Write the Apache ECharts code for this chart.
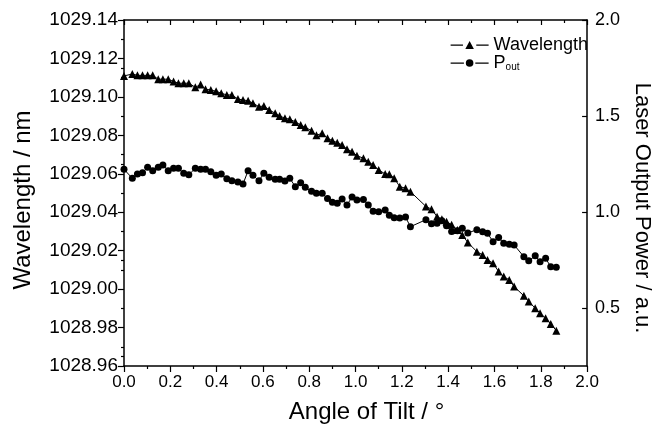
<!DOCTYPE html>
<html><head><meta charset="utf-8">
<script src="https://cdn.jsdelivr.net/npm/echarts@6/dist/echarts.min.js"></script>
<style>html,body{margin:0;padding:0;background:#fff}#c{width:661px;height:435px}</style>
</head><body><div id="c"></div>
<script>
// Angle of tilt (degrees)
const angles = [0.000,0.036,0.058,0.080,0.102,0.124,0.148,0.168,0.191,0.214,0.235,0.258,0.280,0.308,0.331,0.352,0.375,0.398,0.420,0.444,0.466,0.492,0.514,0.536,0.557,0.583,0.604,0.627,0.653,0.672,0.695,0.716,0.740,0.763,0.783,0.810,0.831,0.856,0.879,0.900,0.921,0.942,0.963,0.985,1.006,1.034,1.055,1.076,1.100,1.128,1.146,1.167,1.191,1.216,1.237,1.258,1.279,1.304,1.328,1.352,1.373,1.393,1.415,1.440,1.461,1.485,1.505,1.524,1.549,1.570,1.594,1.618,1.640,1.664,1.685,1.706,1.727,1.748,1.776,1.797,1.821,1.843,1.867];
// Wavelength (nm), null = no measurement
const wavelength = [1029.1109,1029.1119,1029.1112,1029.1112,1029.1112,1029.1112,1029.1092,1029.1092,1029.1092,1029.1080,1029.1071,1029.1071,1029.1071,1029.1050,1029.1064,1029.1040,1029.1036,1029.1029,1029.1019,1029.1010,1029.1010,1029.0989,1029.0984,1029.0980,1029.0967,1029.0949,1029.0953,1029.0932,1029.0915,1029.0901,1029.0889,1029.0884,1029.0870,1029.0854,1029.0842,1029.0824,1029.0800,1029.0811,1029.0785,1029.0772,1029.0762,1029.0750,1029.0728,1029.0715,1029.0694,1029.0681,1029.0663,1029.0646,1029.0620,1029.0599,1029.0598,1029.0577,1029.0533,1029.0525,1029.0507,null,null,1029.0430,1029.0416,1029.0377,1029.0364,1029.0351,1029.0335,1029.0308,1029.0282,1029.0242,null,1029.0195,1029.0178,1029.0152,1029.0135,1029.0091,1029.0065,1029.0048,1029.0013,null,1028.9965,1028.9935,1028.9901,1028.9875,1028.9849,1028.9819,1028.9784];
// Laser output power (a.u.)
const pout = [1.2233,1.1765,1.1989,1.2057,1.2337,1.2160,1.2337,1.2457,1.2160,1.2285,1.2285,1.2025,1.1952,1.2285,1.2233,1.2233,1.2108,1.1920,1.1989,1.1744,1.1640,1.1572,1.1468,1.2160,1.1920,1.1640,1.2025,1.1817,1.1713,1.1713,1.1624,1.1765,1.1328,1.1536,1.1297,1.1089,1.0985,1.0985,1.0712,1.0516,1.0464,1.0688,1.0376,1.0790,1.0636,1.0660,1.0376,1.0050,1.0029,1.0116,0.9840,0.9710,0.9700,0.9745,0.9247,null,null,0.9610,0.9405,0.9420,0.9560,0.9300,0.9000,0.9030,0.9163,0.8920,null,0.9090,0.8990,0.8903,0.8467,0.8685,0.8383,0.8340,0.8295,null,0.7687,0.7470,0.7730,0.7426,0.7600,0.7166,0.7135];

const seriesNames = ['Wavelength', 'Pout'];
const rightLabelValues = [0.5, 1.0, 1.5, 2.0];
const rightMinorValues = [0.25, 0.75, 1.25, 1.75];

const FONT = 'Liberation Sans';
const black = '#000';
const lineAxis = {show: true, onZero: false, lineStyle: {color: black, width: 1.5}};
const triIcon = 'path://M0,5.2h13v1.3h-13z M15.5,10 L20,1.5 L24.5,10z M27,5.2h13v1.3h-13z';
const dotIcon = 'path://M0,5.2h14v1.3h-14z M24,5.8 A4,4 0 1,1 16,5.8 A4,4 0 1,1 24,5.8z M26,5.2h14v1.3h-14z';

const chart = echarts.init(document.getElementById('c'), null, {renderer: 'canvas'});
chart.setOption({
  backgroundColor: '#fff',
  animation: false,
  grid: {left: 124, right: 61, top: 20, bottom: 69},
  legend: {
    orient: 'vertical', right: 73, top: 36, padding: 0, itemGap: 0,
    itemWidth: 38, itemHeight: 10,
    data: [{name: seriesNames[0], icon: triIcon}, {name: seriesNames[1], icon: dotIcon}],
    textStyle: {fontFamily: FONT, fontSize: 18, color: black, lineHeight: 18,
      rich: {a: {fontFamily: FONT, fontSize: 18, color: black},
             s: {fontFamily: FONT, fontSize: 10, color: black, verticalAlign: 'bottom', padding: [9, 0, 0, 0]}}},
    formatter: n => n === 'Pout' ? '{a|P}{s|out}' : n
  },
  xAxis: [
    {type: 'value', min: 0, max: 2, interval: 0.2, position: 'bottom',
     axisLine: lineAxis,
     axisTick: {show: true, inside: false, length: 6, lineStyle: {color: black, width: 1.2}},
     minorTick: {show: true, splitNumber: 2, length: 3, lineStyle: {color: black, width: 1.2}},
     splitLine: {show: false},
     axisLabel: {color: black, fontFamily: FONT, fontSize: 17, margin: 8, formatter: v => v.toFixed(1)},
     name: 'Angle of Tilt / °', nameLocation: 'middle', nameGap: 34,
     nameTextStyle: {fontFamily: FONT, fontSize: 24, color: black, padding: [0, 0, 0, 22]}},
    {type: 'value', min: 0, max: 2, interval: 0.2, position: 'top',
     axisLine: lineAxis,
     axisTick: {show: true, inside: true, length: 5, lineStyle: {color: black, width: 1.2}},
     minorTick: {show: true, splitNumber: 2, length: 3, lineStyle: {color: black, width: 1.2}},
     splitLine: {show: false}, axisLabel: {show: false}}
  ],
  yAxis: [
    {type: 'value', min: 1028.96, max: 1029.14, interval: 0.02, position: 'left',
     axisLine: lineAxis,
     axisTick: {show: true, inside: false, length: 6, lineStyle: {color: black, width: 1.2}},
     minorTick: {show: true, splitNumber: 2, length: 3, lineStyle: {color: black, width: 1.2}},
     splitLine: {show: false},
     axisLabel: {color: black, fontFamily: FONT, fontSize: 19, margin: 6, formatter: v => v.toFixed(2)},
     name: 'Wavelength / nm', nameLocation: 'middle', nameGap: 89, nameRotate: 90,
     nameTextStyle: {fontFamily: FONT, fontSize: 24, color: black, padding: [0, 14, 0, 0]}},
    {type: 'value', min: 0.2, max: 2.0, position: 'right',
     axisLine: lineAxis,
     axisTick: {show: true, inside: true, length: 5, customValues: rightLabelValues, lineStyle: {color: black, width: 1.2}},
     splitLine: {show: false},
     axisLabel: {color: black, fontFamily: FONT, fontSize: 18, margin: 8, customValues: rightLabelValues, formatter: v => v.toFixed(1)},
     name: 'Laser Output Power / a.u.', nameLocation: 'middle', nameGap: 40, nameRotate: -90,
     nameTextStyle: {fontFamily: FONT, fontSize: 22, color: black, padding: [0, 0, 0, 30]}},
    {type: 'value', min: 0.2, max: 2.0, position: 'right',
     axisLine: {show: false},
     axisTick: {show: true, inside: true, length: 3, customValues: rightMinorValues, lineStyle: {color: black, width: 1.2}},
     splitLine: {show: false}, axisLabel: {show: false}}
  ],
  series: [
    {name: 'Wavelength', type: 'line', xAxisIndex: 0, yAxisIndex: 0,
     data: angles.map((a, i) => [a, wavelength[i]]), connectNulls: true,
     symbol: 'triangle', symbolSize: 8, showAllSymbol: true,
     itemStyle: {color: black}, lineStyle: {color: black, width: 1}},
    {name: 'Pout', type: 'line', xAxisIndex: 0, yAxisIndex: 1,
     data: angles.map((a, i) => [a, pout[i]]), connectNulls: true,
     symbol: 'circle', symbolSize: 7, showAllSymbol: true,
     itemStyle: {color: black}, lineStyle: {color: black, width: 1}}
  ]
});
</script>
</body></html>
